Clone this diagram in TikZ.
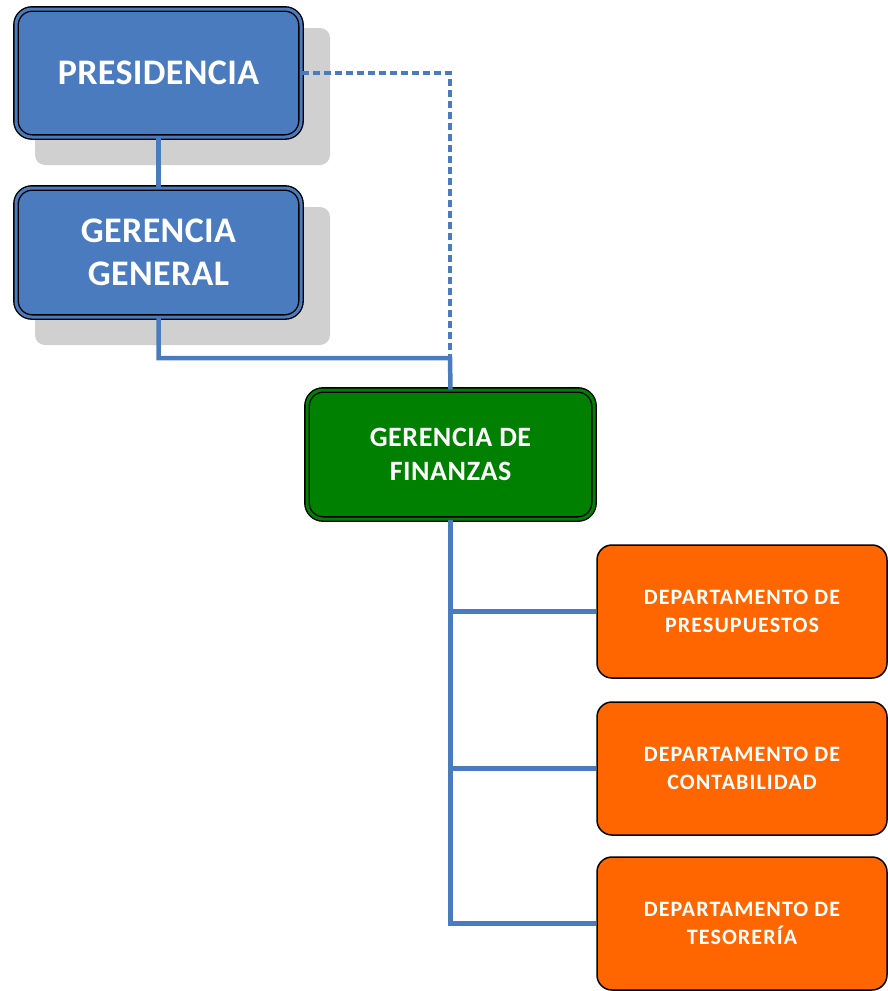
\documentclass[tikz,border=0pt]{standalone}
\usepackage{fontspec}
\setmainfont{Carlito}
\definecolor{bluebox}{HTML}{4A7BBF}
\definecolor{blueline}{HTML}{4A7BBF}
\definecolor{greenbox}{HTML}{008000}
\definecolor{orangebox}{HTML}{FF6600}
\definecolor{shadowgray}{HTML}{D0D0D0}
\begin{document}
\begin{tikzpicture}[x=1pt,y=-1pt,
  dblbox/.style={rounded corners=16pt, draw=black, double=#1, double distance=3pt, line width=1.4pt,
    fill=#1, text=white, font=\bfseries, align=center, inner sep=0pt},
  dept/.style={rounded corners=15pt, draw=black, line width=1.5pt, fill=orangebox, text=white,
    font=\fontsize{22}{28}\selectfont\bfseries\addfontfeature{LetterSpace=5}, align=center, inner sep=0pt,
    minimum width=290pt, minimum height=133pt},
  shadowbox/.style={fill=shadowgray, rounded corners=10pt},
  conn/.style={draw=blueline, line width=4.5pt},
  dconn/.style={draw=blueline, line width=3.5pt, dash pattern=on 7pt off 4pt}]
\useasboundingbox (0,0) rectangle (888,991);
% shadows
\fill[shadowbox] (35,28) rectangle (330,165);
\fill[shadowbox] (35,207) rectangle (330,345);
% nodes
\node[dblbox=bluebox, minimum width=285pt, minimum height=128pt,
  font=\fontsize{36}{43}\selectfont\bfseries\addfontfeature{LetterSpace=1}] (pres) at (158.5,73) {PRESIDENCIA};
\node[dblbox=bluebox, minimum width=285pt, minimum height=129pt,
  font=\fontsize{36}{43}\selectfont\bfseries\addfontfeature{LetterSpace=1}] (gg) at (158.5,252.5) {GERENCIA\\GENERAL};
\node[dblbox=greenbox, minimum width=287pt, minimum height=129pt,
  font=\fontsize{28}{34}\selectfont\bfseries\addfontfeature{LetterSpace=2}] (gf) at (450.5,454.5) {GERENCIA DE\\FINANZAS};
\node[dept] (d1) at (742,611.5) {DEPARTAMENTO DE\\PRESUPUESTOS};
\node[dept] (d2) at (742,768.5) {DEPARTAMENTO DE\\CONTABILIDAD};
\node[dept] (d3) at (742,923.5) {DEPARTAMENTO DE\\TESORERÍA};
% connectors
\coordinate (dc) at (450,73);
\coordinate (jn) at (450,358);
\draw[dconn] (pres.east) -- (dc) -- (jn);
\draw[conn] (pres.south) -- (gg.north);
\draw[conn] (gg.south) |- (jn) -- (gf.north);
\draw[conn] (gf.south) |- (d1.west);
\draw[conn] (gf.south) |- (d2.west);
\draw[conn] (gf.south) |- (d3.west);
\end{tikzpicture}
\end{document}
